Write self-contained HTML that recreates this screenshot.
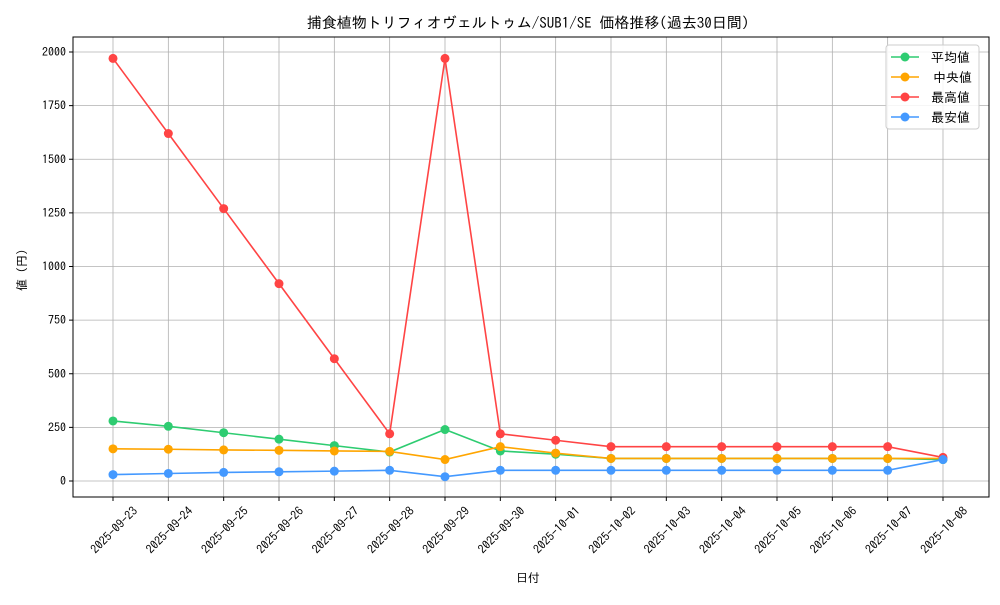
<!DOCTYPE html>
<html><head><meta charset="utf-8"><style>
body{margin:0;background:#fff;}
svg text{font-family:"IPAGothic","Noto Sans CJK JP",sans-serif;fill:#000;}
</style></head><body>
<svg id="s" width="1000" height="600" xmlns="http://www.w3.org/2000/svg"></svg>
<script>
const s=document.getElementById('s');
let h='';
const L=73,R=989,T=37,B=497;
const X=i=>113+i*55.333, Y=v=>481-v*429/2000;
const dates=['2025-09-23','2025-09-24','2025-09-25','2025-09-26','2025-09-27','2025-09-28','2025-09-29','2025-09-30','2025-10-01','2025-10-02','2025-10-03','2025-10-04','2025-10-05','2025-10-06','2025-10-07','2025-10-08'];
for(let i=0;i<16;i++){h+=`<line x1="${X(i)}" y1="${T}" x2="${X(i)}" y2="${B}" stroke="#b0b0b0" stroke-width="0.8"/>`;
h+=`<line x1="${X(i)}" y1="${B}" x2="${X(i)}" y2="${B+4}" stroke="#000"/>`;
h+=`<text transform="translate(${X(i)+4},${B+36}) rotate(-45)" text-anchor="middle" font-size="12">${dates[i]}</text>`;}
for(let v=0;v<=2000;v+=250){const y=Y(v);h+=`<line x1="${L}" y1="${y}" x2="${R}" y2="${y}" stroke="#b0b0b0" stroke-width="0.8"/>`;
h+=`<line x1="${L-4}" y1="${y}" x2="${L}" y2="${y}" stroke="#000"/>`;
h+=`<text x="${L-7}" y="${y+4}" text-anchor="end" font-size="12">${v}</text>`;}
const ser=[
['#2ecc71',[280,255,225,195,165,135,240,140,125,105,105,105,105,105,105,100]],
['#ffa500',[150,148,145,143,140,138,100,160,130,105,105,105,105,105,105,105]],
['#ff4444',[1970,1620,1270,920,570,220,1970,220,190,160,160,160,160,160,160,110]],
['#4499ff',[30,35,40,43,46,50,20,50,50,50,50,50,50,50,50,100]]];
for(const [c,d] of ser){h+=`<polyline fill="none" stroke="${c}" stroke-width="1.6" points="${d.map((v,i)=>X(i)+','+Y(v)).join(' ')}"/>`;
d.forEach((v,i)=>h+=`<circle cx="${X(i)}" cy="${Y(v)}" r="4.5" fill="${c}"/>`);}
h+=`<rect x="${L}" y="${T}" width="${R-L}" height="${B-T}" fill="none" stroke="#000" stroke-width="1"/>`;
h+=`<rect x="886" y="45" width="93" height="84" rx="3" fill="#fff" fill-opacity="0.85" stroke="#ccc"/>`;
const names=['平均値','中央値','最高値','最安値'];
ser.forEach(([c],k)=>{const y=57+k*20;h+=`<line x1="891" y1="${y}" x2="919" y2="${y}" stroke="${c}" stroke-width="1.6"/><circle cx="905" cy="${y}" r="4.5" fill="${c}"/><text x="${k==1?933:931}" y="${y+5}" font-size="13">${names[k]}</text>`;});
h+=`<text x="528" y="28" text-anchor="middle" font-size="15">捕食植物トリフィオヴェルトゥム/SUB1/SE 価格推移(過去30日間)</text>`;
h+=`<text x="528" y="582" text-anchor="middle" font-size="12">日付</text>`;
h+=`<text transform="translate(26,270) rotate(-90)" text-anchor="middle" font-size="12">値 (円)</text>`;
s.innerHTML=h;
</script>
</body></html>
